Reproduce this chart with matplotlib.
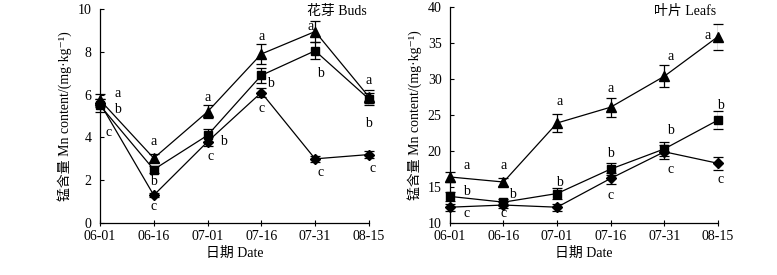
import matplotlib.pyplot as plt
import numpy as np

plt.rcParams['font.family'] = ['Liberation Serif', 'Noto Sans CJK SC', 'DejaVu Serif']
plt.rcParams['font.size'] = 10

# ---------------- data ----------------
dates = ['06-01', '06-16', '07-01', '07-16', '07-31', '08-15']

# buds (花芽)
buds_tri = [5.75, 3.03, 5.2, 7.9, 8.95, 5.9]
buds_tri_err = [0.3, 0.2, 0.3, 0.45, 0.5, 0.3]
buds_sq = [5.5, 2.5, 4.1, 6.9, 8.05, 5.8]
buds_sq_err = [0.3, 0.15, 0.3, 0.35, 0.4, 0.3]
buds_dia = [5.6, 1.3, 3.8, 6.1, 3.0, 3.2]
buds_dia_err = [0.2, 0.1, 0.2, 0.2, 0.15, 0.15]

# leaves (叶片)
leaf_tri = [16.4, 15.7, 23.9, 26.1, 30.4, 35.9]
leaf_tri_err = [0.7, 0.6, 1.3, 1.3, 1.5, 1.8]
leaf_sq = [13.7, 12.9, 14.1, 17.5, 20.3, 24.3]
leaf_sq_err = [0.6, 0.4, 0.8, 0.8, 1.0, 1.2]
leaf_dia = [12.2, 12.5, 12.2, 16.2, 19.9, 18.3]
leaf_dia_err = [0.5, 0.4, 0.5, 0.8, 1.0, 0.9]

# significance letters: (x, y, text)
buds_letters = [
    (0.32, 6.05, 'a'), (0.32, 5.3, 'b'), (0.15, 4.25, 'c'),
    (1, 3.8, 'a'), (1, 1.95, 'b'), (1, 0.75, 'c'),
    (2, 5.85, 'a'), (2.3, 3.8, 'b'), (2.05, 3.1, 'c'),
    (3, 8.7, 'a'), (3.17, 6.5, 'b'), (3, 5.35, 'c'),
    (3.92, 9.2, 'a'), (4.1, 7.0, 'b'), (4.1, 2.35, 'c'),
    (5, 6.65, 'a'), (5, 4.65, 'b'), (5.06, 2.55, 'c'),
]
leaf_letters = [
    (0.31, 18.0, 'a'), (0.31, 14.4, 'b'), (0.31, 11.3, 'c'),
    (1, 18.0, 'a'), (1.17, 13.9, 'b'), (1, 11.3, 'c'),
    (2.05, 26.9, 'a'), (2.05, 15.7, 'b'),
    (3, 28.7, 'a'), (3, 19.6, 'b'), (3, 13.8, 'c'),
    (4.12, 33.1, 'a'), (4.12, 22.9, 'b'), (4.12, 17.4, 'c'),
    (4.8, 36.1, 'a'), (5.05, 26.3, 'b'), (5.05, 16.0, 'c'),
]

fig = plt.figure(figsize=(7.77, 2.75), dpi=100)
ax1 = fig.add_axes([0.1287, 0.189, 0.346, 0.778])
ax2 = fig.add_axes([0.579, 0.189, 0.345, 0.785])

x = np.arange(len(dates))


def draw(ax, series, letters, ylim, yticks, title, tx, ty):
    for y, e, m, ms in series:
        ax.errorbar(x, y, yerr=e, color='black', marker=m, markersize=ms,
                    linewidth=0.9, elinewidth=0.9, capsize=3.5, capthick=0.9)
    for lx, ly, t in letters:
        ax.text(lx, ly, t, ha='center', va='center')
    ax.text(tx, ty, title, ha='center', va='center')
    ax.set_xlim(0, 5)
    ax.set_ylim(*ylim)
    ax.set_yticks(yticks)
    ax.set_xticks(x)
    ax.set_xticklabels(dates)
    ax.spines['top'].set_visible(False)
    ax.spines['right'].set_visible(False)
    ax.spines['left'].set_linewidth(0.9)
    ax.spines['bottom'].set_linewidth(0.9)
    ax.tick_params(axis='y', direction='in', length=3, width=0.8, pad=6)
    ax.tick_params(axis='x', direction='inout', length=4, width=0.8, pad=3)
    ax.set_xlabel('日期 Date', labelpad=3)
    ax.set_ylabel('锰含量 Mn content/(mg·kg⁻¹)', labelpad=4)
    for line in ax.lines:
        line.set_clip_on(False)


draw(ax1,
     [(buds_tri, buds_tri_err, '^', 7), (buds_sq, buds_sq_err, 's', 5.5),
      (buds_dia, buds_dia_err, 'D', 5)],
     buds_letters, (0, 10), [0, 2, 4, 6, 8, 10], '花芽 Buds', 4.4, 9.9)
draw(ax2,
     [(leaf_tri, leaf_tri_err, '^', 7), (leaf_sq, leaf_sq_err, 's', 5.5),
      (leaf_dia, leaf_dia_err, 'D', 5)],
     leaf_letters, (10, 40), [10, 15, 20, 25, 30, 35, 40], '叶片 Leafs', 4.39, 39.4)

fig.savefig('out.png', dpi=100)
